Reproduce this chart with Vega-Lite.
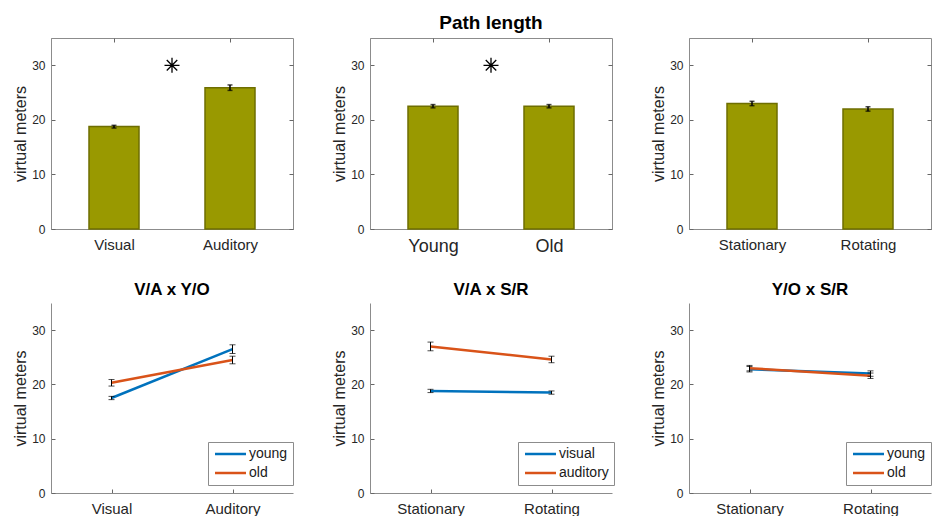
{
  "$schema": "https://vega.github.io/schema/vega-lite/v6.json",
  "padding": {"left": 12, "top": 13, "right": 0, "bottom": 0},
  "background": "white",
  "datasets": {
    "va": [
      {"modality": "Visual", "pos": 1, "mean": 18.8, "lo": 18.5, "hi": 19.0},
      {"modality": "Auditory", "pos": 2, "mean": 25.9, "lo": 25.4, "hi": 26.4}
    ],
    "yo": [
      {"age": "Young", "pos": 1, "mean": 22.5, "lo": 22.2, "hi": 22.8},
      {"age": "Old", "pos": 2, "mean": 22.5, "lo": 22.2, "hi": 22.8}
    ],
    "sr": [
      {"platform": "Stationary", "pos": 1, "mean": 23.0, "lo": 22.6, "hi": 23.4},
      {"platform": "Rotating", "pos": 2, "mean": 22.0, "lo": 21.6, "hi": 22.4}
    ],
    "sig": [{"pos": 1.5, "y": 30}],
    "vaYo": [
      {"group": "young", "modality": "Visual", "pos": 1, "mean": 17.5, "lo": 17.2, "hi": 17.8},
      {"group": "young", "modality": "Auditory", "pos": 2, "mean": 26.5, "lo": 25.7, "hi": 27.3},
      {"group": "old", "modality": "Visual", "pos": 1, "mean": 20.3, "lo": 19.7, "hi": 20.9},
      {"group": "old", "modality": "Auditory", "pos": 2, "mean": 24.5, "lo": 23.8, "hi": 25.2}
    ],
    "vaSr": [
      {"group": "visual", "platform": "Stationary", "pos": 1, "mean": 18.8, "lo": 18.5, "hi": 19.1},
      {"group": "visual", "platform": "Rotating", "pos": 2, "mean": 18.5, "lo": 18.2, "hi": 18.8},
      {"group": "auditory", "platform": "Stationary", "pos": 1, "mean": 27.0, "lo": 26.2, "hi": 27.8},
      {"group": "auditory", "platform": "Rotating", "pos": 2, "mean": 24.6, "lo": 24.0, "hi": 25.2}
    ],
    "yoSr": [
      {"group": "young", "platform": "Stationary", "pos": 1, "mean": 22.8, "lo": 22.3, "hi": 23.3},
      {"group": "young", "platform": "Rotating", "pos": 2, "mean": 22.0, "lo": 21.5, "hi": 22.5},
      {"group": "old", "platform": "Stationary", "pos": 1, "mean": 23.0, "lo": 22.5, "hi": 23.5},
      {"group": "old", "platform": "Rotating", "pos": 2, "mean": 21.6, "lo": 21.1, "hi": 22.1}
    ]
  },
  "columns": 3,
  "spacing": {"row": 74, "column": 77},
  "bounds": "flush",
  "concat": [
    {
      "width": 242, "height": 191,
      "view": {"stroke": "#8c8c8c"},
      "data": {"name": "va"},
      "resolve": {"axis": {"x": "independent", "y": "independent"}},
      "layer": [
        {
          "mark": {"type": "bar", "orient": "vertical", "size": 50, "fill": "#999900", "stroke": "#6e6e00", "strokeWidth": 1.5},
          "encoding": {
            "x": {"field": "pos", "type": "quantitative", "scale": {"domain": [0.5, 2.5], "nice": false, "zero": false},
                  "axis": {"values": [1, 2], "labelExpr": "datum.value == 1 ? 'Visual' : 'Auditory'", "title": null}},
            "y": {"field": "mean", "type": "quantitative", "title": "virtual meters", "scale": {"domain": [0, 35], "nice": false},
                  "axis": {"values": [0, 10, 20, 30]}}
          }
        },
        {
          "mark": {"type": "errorbar", "color": "black", "thickness": 1.5, "ticks": {"size": 5}},
          "encoding": {
            "x": {"field": "pos", "type": "quantitative", "axis": {"orient": "top", "values": [1, 2], "labels": false, "title": null, "domain": false}},
            "y": {"field": "lo", "type": "quantitative", "axis": {"orient": "right", "values": [0, 10, 20, 30], "labels": false, "title": null, "domain": false}},
            "y2": {"field": "hi"}
          }
        },
        {
          "data": {"name": "sig"},
          "mark": {"type": "point", "shape": "M-1,0L1,0M0,-1L0,1M-0.7,-0.7L0.7,0.7M-0.7,0.7L0.7,-0.7", "size": 225, "stroke": "black", "strokeWidth": 1.3, "filled": false, "opacity": 1},
          "encoding": {
            "x": {"field": "pos", "type": "quantitative", "axis": null},
            "y": {"field": "y", "type": "quantitative", "axis": null}
          }
        }
      ]
    },
    {
      "width": 242, "height": 191,
      "view": {"stroke": "#8c8c8c"},
      "title": {"text": "Path length", "fontSize": 19, "fontWeight": "bold", "offset": 5},
      "data": {"name": "yo"},
      "resolve": {"axis": {"x": "independent", "y": "independent"}},
      "layer": [
        {
          "mark": {"type": "bar", "orient": "vertical", "size": 50, "fill": "#999900", "stroke": "#6e6e00", "strokeWidth": 1.5},
          "encoding": {
            "x": {"field": "pos", "type": "quantitative", "scale": {"domain": [0.5, 2.5], "nice": false, "zero": false},
                  "axis": {"values": [1, 2], "labelExpr": "datum.value == 1 ? 'Young' : 'Old'", "title": null, "labelFontSize": 18}},
            "y": {"field": "mean", "type": "quantitative", "title": "virtual meters", "scale": {"domain": [0, 35], "nice": false},
                  "axis": {"values": [0, 10, 20, 30]}}
          }
        },
        {
          "mark": {"type": "errorbar", "color": "black", "thickness": 1.5, "ticks": {"size": 5}},
          "encoding": {
            "x": {"field": "pos", "type": "quantitative", "axis": {"orient": "top", "values": [1, 2], "labels": false, "title": null, "domain": false}},
            "y": {"field": "lo", "type": "quantitative", "axis": {"orient": "right", "values": [0, 10, 20, 30], "labels": false, "title": null, "domain": false}},
            "y2": {"field": "hi"}
          }
        },
        {
          "data": {"name": "sig"},
          "mark": {"type": "point", "shape": "M-1,0L1,0M0,-1L0,1M-0.7,-0.7L0.7,0.7M-0.7,0.7L0.7,-0.7", "size": 225, "stroke": "black", "strokeWidth": 1.3, "filled": false, "opacity": 1},
          "encoding": {
            "x": {"field": "pos", "type": "quantitative", "axis": null},
            "y": {"field": "y", "type": "quantitative", "axis": null}
          }
        }
      ]
    },
    {
      "width": 242, "height": 191,
      "view": {"stroke": "#8c8c8c"},
      "data": {"name": "sr"},
      "resolve": {"axis": {"x": "independent", "y": "independent"}},
      "layer": [
        {
          "mark": {"type": "bar", "orient": "vertical", "size": 50, "fill": "#999900", "stroke": "#6e6e00", "strokeWidth": 1.5},
          "encoding": {
            "x": {"field": "pos", "type": "quantitative", "scale": {"domain": [0.5, 2.5], "nice": false, "zero": false},
                  "axis": {"values": [1, 2], "labelExpr": "datum.value == 1 ? 'Stationary' : 'Rotating'", "title": null}},
            "y": {"field": "mean", "type": "quantitative", "title": "virtual meters", "scale": {"domain": [0, 35], "nice": false},
                  "axis": {"values": [0, 10, 20, 30]}}
          }
        },
        {
          "mark": {"type": "errorbar", "color": "black", "thickness": 1.5, "ticks": {"size": 5}},
          "encoding": {
            "x": {"field": "pos", "type": "quantitative", "axis": {"orient": "top", "values": [1, 2], "labels": false, "title": null, "domain": false}},
            "y": {"field": "lo", "type": "quantitative", "axis": {"orient": "right", "values": [0, 10, 20, 30], "labels": false, "title": null, "domain": false}},
            "y2": {"field": "hi"}
          }
        }
      ]
    },
    {
      "width": 242, "height": 190,
      "view": {"stroke": null},
      "title": {"text": "V/A x Y/O", "fontSize": 17, "fontWeight": "bold", "offset": 4},
      "data": {"name": "vaYo"},
      "layer": [
        {
          "mark": {"type": "line", "strokeWidth": 2.5},
          "encoding": {
            "x": {"field": "pos", "type": "quantitative", "scale": {"domain": [0.5, 2.5], "nice": false, "zero": false},
                  "axis": {"values": [1, 2], "labelExpr": "datum.value == 1 ? 'Visual' : 'Auditory'", "title": null}},
            "y": {"field": "mean", "type": "quantitative", "title": "virtual meters", "scale": {"domain": [0, 35], "nice": false},
                  "axis": {"values": [0, 10, 20, 30]}},
            "color": {"field": "group", "type": "nominal", "scale": {"domain": ["young", "old"], "range": ["#0072BD", "#D95319"]},
                      "legend": {"legendX": 157, "legendY": 139}}
          }
        },
        {
          "mark": {"type": "errorbar", "color": "black", "thickness": 1, "ticks": {"size": 6}},
          "encoding": {
            "x": {"field": "pos", "type": "quantitative"},
            "y": {"field": "lo", "type": "quantitative", "title": "virtual meters"},
            "y2": {"field": "hi"}
          }
        }
      ]
    },
    {
      "width": 242, "height": 190,
      "view": {"stroke": null},
      "title": {"text": "V/A x S/R", "fontSize": 17, "fontWeight": "bold", "offset": 4},
      "data": {"name": "vaSr"},
      "layer": [
        {
          "mark": {"type": "line", "strokeWidth": 2.5},
          "encoding": {
            "x": {"field": "pos", "type": "quantitative", "scale": {"domain": [0.5, 2.5], "nice": false, "zero": false},
                  "axis": {"values": [1, 2], "labelExpr": "datum.value == 1 ? 'Stationary' : 'Rotating'", "title": null}},
            "y": {"field": "mean", "type": "quantitative", "title": "virtual meters", "scale": {"domain": [0, 35], "nice": false},
                  "axis": {"values": [0, 10, 20, 30]}},
            "color": {"field": "group", "type": "nominal", "scale": {"domain": ["visual", "auditory"], "range": ["#0072BD", "#D95319"]},
                      "legend": {"legendX": 148, "legendY": 139}}
          }
        },
        {
          "mark": {"type": "errorbar", "color": "black", "thickness": 1, "ticks": {"size": 6}},
          "encoding": {
            "x": {"field": "pos", "type": "quantitative"},
            "y": {"field": "lo", "type": "quantitative", "title": "virtual meters"},
            "y2": {"field": "hi"}
          }
        }
      ]
    },
    {
      "width": 242, "height": 190,
      "view": {"stroke": null},
      "title": {"text": "Y/O x S/R", "fontSize": 17, "fontWeight": "bold", "offset": 4},
      "data": {"name": "yoSr"},
      "layer": [
        {
          "mark": {"type": "line", "strokeWidth": 2.5},
          "encoding": {
            "x": {"field": "pos", "type": "quantitative", "scale": {"domain": [0.5, 2.5], "nice": false, "zero": false},
                  "axis": {"values": [1, 2], "labelExpr": "datum.value == 1 ? 'Stationary' : 'Rotating'", "title": null}},
            "y": {"field": "mean", "type": "quantitative", "title": "virtual meters", "scale": {"domain": [0, 35], "nice": false},
                  "axis": {"values": [0, 10, 20, 30]}},
            "color": {"field": "group", "type": "nominal", "scale": {"domain": ["young", "old"], "range": ["#0072BD", "#D95319"]},
                      "legend": {"legendX": 157, "legendY": 139}}
          }
        },
        {
          "mark": {"type": "errorbar", "color": "black", "thickness": 1, "ticks": {"size": 6}},
          "encoding": {
            "x": {"field": "pos", "type": "quantitative"},
            "y": {"field": "lo", "type": "quantitative", "title": "virtual meters"},
            "y2": {"field": "hi"}
          }
        }
      ]
    }
  ],
  "resolve": {"scale": {"color": "independent"}, "legend": {"color": "independent"}},
  "config": {
    "font": "Liberation Sans",
    "axis": {
      "grid": false,
      "domainColor": "#8c8c8c",
      "domainWidth": 1,
      "tickColor": "#666666",
      "tickSize": -4,
      "labelColor": "#262626",
      "labelFontSize": 15,
      "labelPadding": 12,
      "titleColor": "#262626",
      "titleFontSize": 16,
      "titleFontWeight": "normal"
    },
    "axisY": {"labelFontSize": 12, "labelPadding": 10, "titlePadding": 3},
    "legend": {
      "orient": "none",
      "title": null,
      "strokeColor": "#8c8c8c",
      "fillColor": "white",
      "padding": 5,
      "symbolType": "M-1,0L5.2,0",
      "symbolSize": 100,
      "symbolStrokeWidth": 2.5,
      "labelFontSize": 14,
      "labelColor": "#1a1a1a",
      "labelOffset": 22,
      "rowPadding": 5
    },
    "title": {"color": "black", "anchor": "middle"}
  }
}
